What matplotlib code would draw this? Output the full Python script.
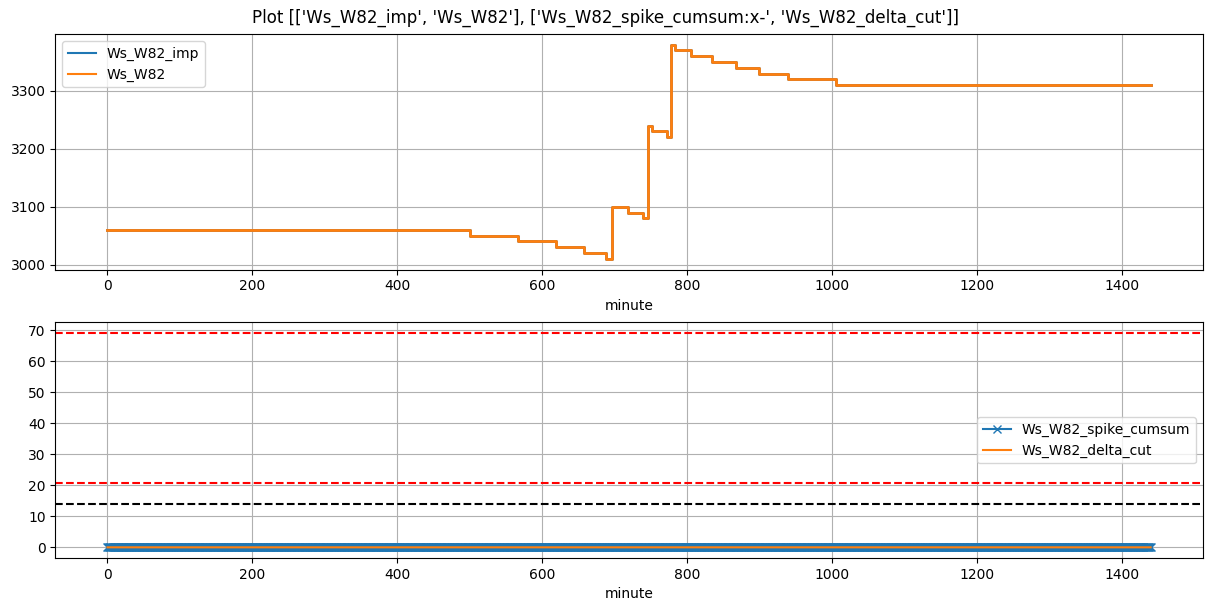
import numpy as np
import matplotlib
matplotlib.use("Agg")
import matplotlib.pyplot as plt

# Step change points (minute) and levels for Ws_W82 (imp identical)
step_minutes = [0, 500, 567, 619, 658, 688, 697, 718, 739, 746, 752, 772, 778,
                784, 805, 835, 867, 899, 939, 1006, 1440]
step_levels = [3060, 3050, 3040, 3030, 3020, 3010, 3100, 3090, 3080, 3240, 3230,
               3220, 3380, 3370, 3360, 3350, 3340, 3330, 3320, 3310, 3310]

minutes = list(range(0, 1441))
spike_cumsum = [0] * len(minutes)
delta_cut = [0] * len(minutes)

upper_red = 69.0
lower_red = 20.7
black_level = 13.9

fig, axes = plt.subplots(2, 1, figsize=(12.11, 6.11), dpi=100)
fig.subplots_adjust(left=0.0457, right=0.9932, top=0.9444, bottom=0.0867, hspace=0.225)
fig.suptitle("Plot [['Ws_W82_imp', 'Ws_W82'], ['Ws_W82_spike_cumsum:x-', 'Ws_W82_delta_cut']]",
             y=0.985)

ax = axes[0]
ax.plot(step_minutes, step_levels, drawstyle="steps-post", label="Ws_W82_imp",
        color="C0", lw=2)
ax.plot(step_minutes, step_levels, drawstyle="steps-post", label="Ws_W82",
        color="C1", lw=2)
ax.set_xlabel("minute")
ax.grid(True)
leg = ax.legend(loc="upper left")
for h in leg.get_lines():
    h.set_linewidth(1.5)

ax = axes[1]
ax.plot(minutes, spike_cumsum, "x-", label="Ws_W82_spike_cumsum", color="C0")
ax.plot(minutes, delta_cut, label="Ws_W82_delta_cut", color="C1")
ax.axhline(upper_red, color="red", linestyle="--")
ax.axhline(lower_red, color="red", linestyle="--")
ax.axhline(black_level, color="black", linestyle="--")
ax.set_xlabel("minute")
ax.grid(True)
ax.legend(loc="center right")

fig.savefig("out.png", dpi=100)
